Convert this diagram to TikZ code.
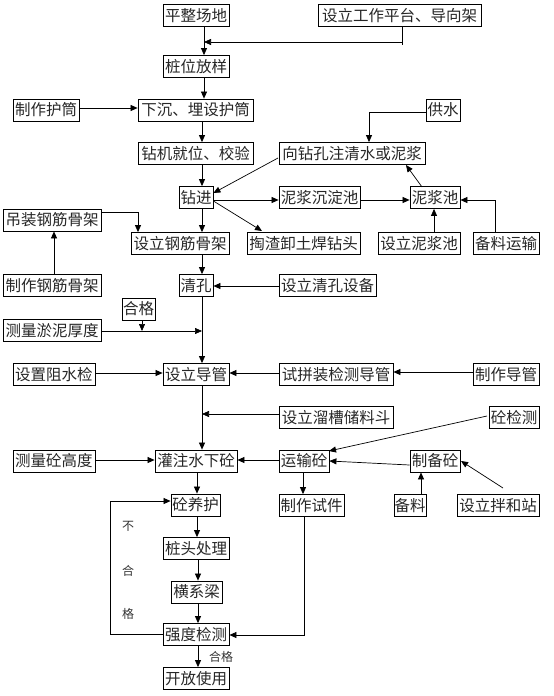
\documentclass[tikz,border=0pt]{standalone}
\usepackage{fontspec}
\newfontfamily\cjk{Noto Sans CJK SC}
\usetikzlibrary{arrows.meta,calc}
\begin{document}
\begin{tikzpicture}[x=1pt,y=-1pt,
  box/.style={draw, line width=0.8pt, inner sep=0pt, minimum height=22pt, align=center,
    font=\cjk\fontsize{15.5pt}{17pt}\selectfont, text=black!85},
  arr/.style={line width=0.7pt, -{Triangle[length=7pt,width=6pt]}},
  ln/.style={line width=0.7pt},
  lbl/.style={font=\cjk\fontsize{12pt}{14pt}\selectfont, text=black!80, inner sep=0pt}]
\fill[white] (0,0) rectangle (554,696);
\useasboundingbox (0,0) rectangle (554,696);
% nodes
\node[box, minimum width=66pt] (pz) at (196,15.5) {平整场地};
\node[box, minimum width=163pt] (gzpt) at (399.5,15.5) {设立工作平台、导向架};
\node[box, minimum width=66pt] (zwfy) at (196,66.5) {桩位放样};
\node[box, minimum width=66pt] (zzhl) at (46,110) {制作护筒};
\node[box, minimum width=115pt] (xc) at (195.5,110) {下沉、埋设护筒};
\node[box, minimum width=34pt] (gs) at (443,110) {供水};
\node[box, minimum width=115pt] (zj) at (195.5,153.5) {钻机就位、校验};
\node[box, minimum width=146pt] (xzk) at (352,153.5) {向钻孔注清水或泥浆};
\node[box, minimum width=34pt] (zjin) at (196,197.5) {钻进};
\node[box, minimum width=81pt] (njcd) at (319.5,197.5) {泥浆沉淀池};
\node[box, minimum width=50pt] (njc) at (435,197.5) {泥浆池};
\node[box, minimum width=98pt] (dz) at (52,220) {吊装钢筋骨架};
\node[box, minimum width=98pt] (sljg) at (180,243.5) {设立钢筋骨架};
\node[box, minimum width=113pt] (tz) at (303.5,243.5) {掏渣卸土焊钻头};
\node[box, minimum width=82pt] (slnjc) at (419,243.5) {设立泥浆池};
\node[box, minimum width=66pt] (blys) at (506,243.5) {备料运输};
\node[box, minimum width=98pt] (zzjg) at (52,285.5) {制作钢筋骨架};
\node[box, minimum width=34pt] (qk) at (196,285.5) {清孔};
\node[box, minimum width=97pt] (qksb) at (327.5,285.5) {设立清孔设备};
\node[box, minimum width=33pt] (hg) at (138.5,309) {合格};
\node[box, minimum width=98pt] (clyn) at (52,330.5) {测量淤泥厚度};
\node[box, minimum width=82pt] (zsj) at (54,374.5) {设置阻水检};
\node[box, minimum width=66pt] (sldg) at (196,374.5) {设立导管};
\node[box, minimum width=114pt] (spz) at (336,374.5) {试拼装检测导管};
\node[box, minimum width=66pt] (zzdg) at (506,374.5) {制作导管};
\node[box, minimum width=114pt] (lc) at (336,417.5) {设立溜槽储料斗};
\node[box, minimum width=50pt] (tjc) at (514,417.5) {砼检测};
\node[box, minimum width=82pt] (clgd) at (54,461) {测量砼高度};
\node[box, minimum width=82pt] (gz) at (196,461) {灌注水下砼};
\node[box, minimum width=50pt] (ys) at (304,461) {运输砼};
\node[box, minimum width=50pt] (zbt) at (435,461) {制备砼};
\node[box, minimum width=49pt] (yh) at (195.5,505) {砼养护};
\node[box, minimum width=65pt] (sj) at (311.5,505.5) {制作试件};
\node[box, minimum width=32pt] (bl) at (410,505.5) {备料};
\node[box, minimum width=82pt] (bhz) at (498,505.5) {设立拌和站};
\node[box, minimum width=66pt] (ztcl) at (196,548.5) {桩头处理};
\node[box, minimum width=51pt] (hxl) at (196.5,592) {横系梁};
\node[box, minimum width=66pt] (qdjc) at (196,634.5) {强度检测};
\node[box, minimum width=66pt] (kf) at (196,678.5) {开放使用};
% helper coordinates
\coordinate (xa) at (204,0);
\coordinate (xm) at (202,0);
\coordinate (xl) at (198,0);
\coordinate (j1) at (402,42);
\coordinate (j1b) at (402,45);
\coordinate (j2) at (369,112);
\coordinate (j3) at (495,200);
\coordinate (j4) at (138,212);
\coordinate (j5) at (142,331);
\coordinate (j6) at (304,635);
\coordinate (j7) at (110,634);
\coordinate (j8) at (110,501);
% connectors
\draw[arr] (pz.south -| xa) -- (zwfy.north -| xa);
\draw[ln] (gzpt.south -| j1) -- (j1b);
\draw[arr] (j1) -- (j1 -| xa);
\draw[arr] (zwfy.south -| xa) -- (xc.north -| xa);
\draw[arr] (zzhl.east |- 0,108) -- (xc.west |- 0,108);
\draw[arr] (xc.south -| xm) -- (zj.north -| xm);
\draw[arr] (gs.west |- j2) -- (j2) -- (xzk.north -| j2);
\draw[arr] (zj.south -| xm) -- (zjin.north -| xm);
\draw[arr] (278,158) -- (zjin.east |- 0,193);
\draw[arr] (zjin.east |- 0,200) -- (njcd.west |- 0,200);
\draw[arr] (njcd.east |- 0,200) -- (njc.west |- 0,200);
\draw[arr] (422,187) -- (406,165);
\draw[arr] (zjin.east |- 0,201) -- (262,231);
\draw[arr] (zjin.south -| xm) -- (sljg.north -| xm);
\draw[arr] (slnjc.north -| 434,0) -- (njc.south -| 434,0);
\draw[arr] (blys.north -| j3) -- (j3) -- (njc.east |- j3);
\draw[arr] (dz.east |- j4) -- (j4) -- (sljg.north -| j4);
\draw[arr] (zzjg.north -| 54,0) -- (dz.south -| 54,0);
\draw[arr] (sljg.south -| xm) -- (qk.north -| xm);
\draw[arr] (qksb.west |- 0,286) -- (qk.east |- 0,286);
\draw[arr] (qk.south -| xm) -- (sldg.north -| xm);
\draw[arr] (clyn.east |- j5) -- (j5 -| xm);
\draw[arr] (hg.south -| j5) -- (j5);
\draw[arr] (zsj.east |- 0,373) -- (sldg.west |- 0,373);
\draw[arr] (spz.west |- 0,373) -- (sldg.east |- 0,373);
\draw[arr] (zzdg.west |- 0,372) -- (spz.east |- 0,372);
\draw[arr] (sldg.south -| xm) -- (gz.north -| xm);
\draw[arr] (lc.west |- 0,414) -- (xm |- 0,414);
\draw[arr] (clgd.east |- 0,460) -- (gz.west |- 0,460);
\draw[arr] (ys.west |- 0,460) -- (gz.east |- 0,460);
\draw[arr] (487,416) -- (329,451);
\draw[arr] (zbt.west |- 0,465) -- (ys.east |- 0,461);
\draw[arr] (bl.north -| 421,0) -- (zbt.south -| 421,0);
\draw[arr] (503,488) -- (461,461);
\draw[arr] (ys.south -| 303,0) -- (sj.north -| 303,0);
\draw[arr] (gz.south -| 197,0) -- (yh.north -| 197,0);
\draw[arr] (yh.south -| 197,0) -- (ztcl.north -| 197,0);
\draw[arr] (ztcl.south -| xl) -- (hxl.north -| xl);
\draw[arr] (hxl.south -| xl) -- (qdjc.north -| xl);
\draw[arr] (qdjc.south -| xl) -- (kf.north -| xl);
\draw[arr] (sj.south -| j6) -- (j6) -- (qdjc.east |- j6);
\draw[arr] (qdjc.west |- j7) -- (j7) -- (j8) -- (yh.west |- j8);
% labels
\node[lbl] (lb1) at (128,526) {不};
\node[lbl] (lb2) at (128,571) {合};
\node[lbl] (lb3) at (128,614) {格};
\node[lbl] (lb4) at (221,657) {合格};
\end{tikzpicture}
\end{document}
